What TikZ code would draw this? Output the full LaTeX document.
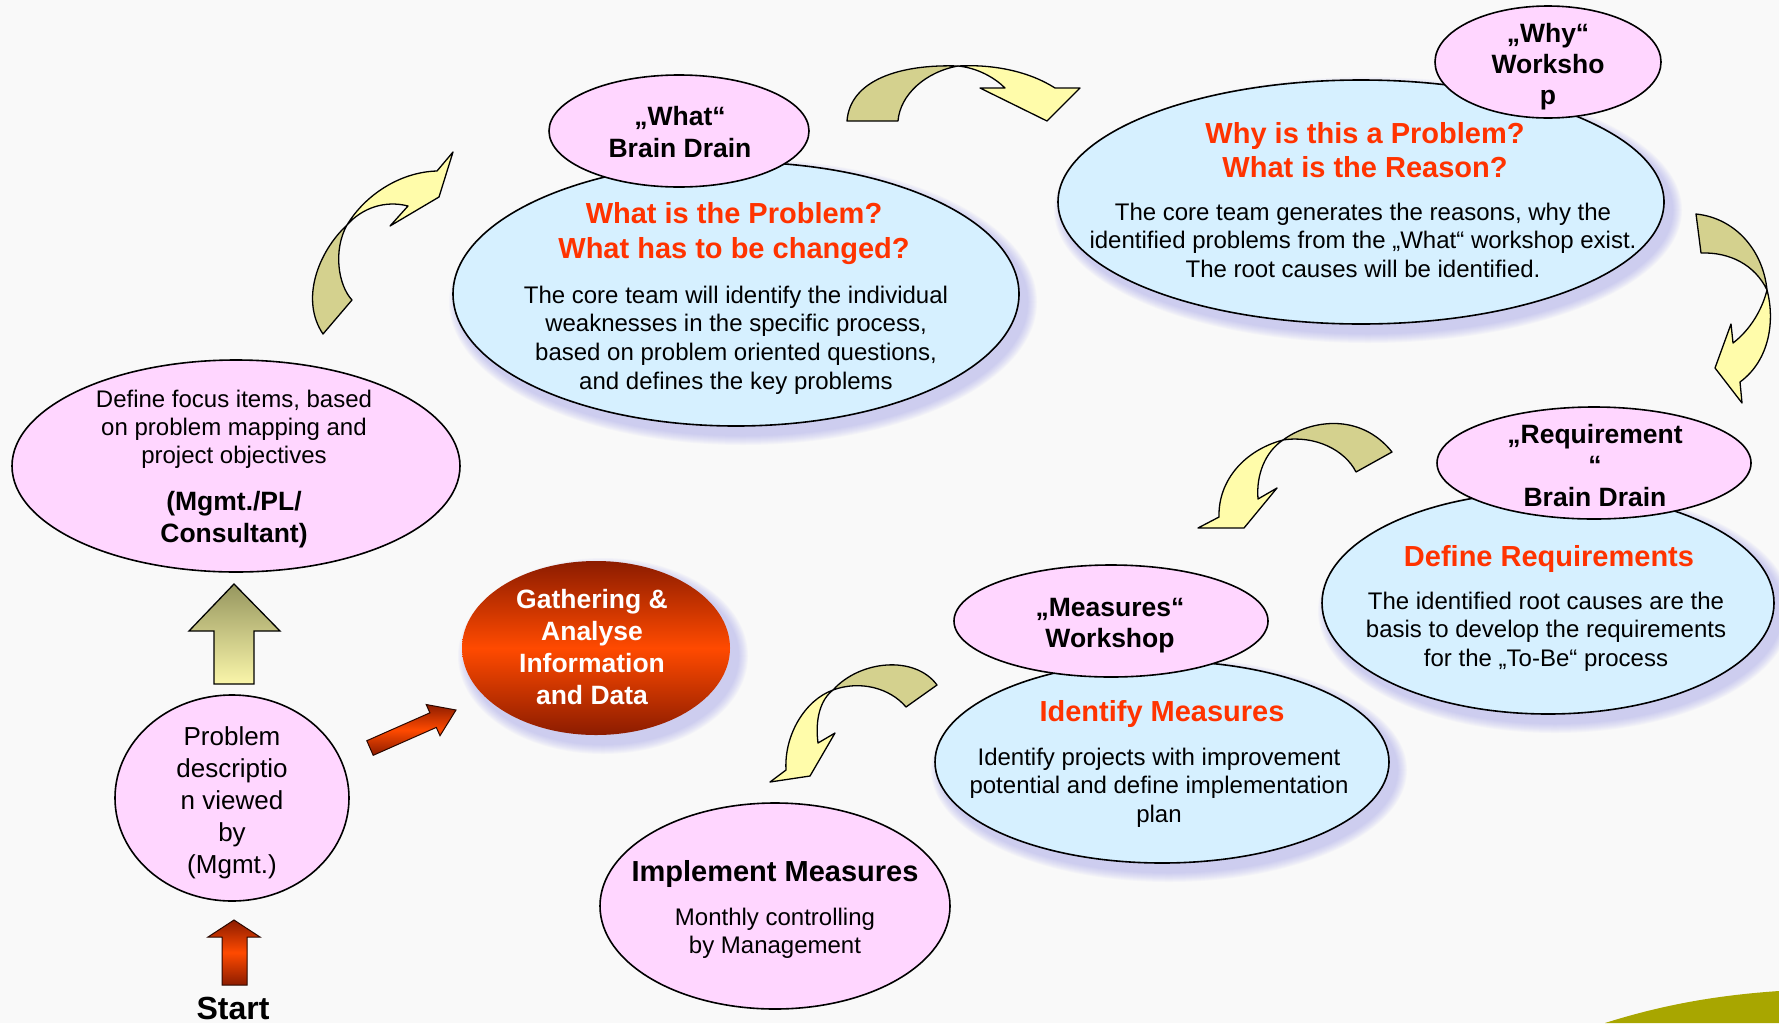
\documentclass[tikz,border=0pt]{standalone}
\usepackage{fontspec}
\setmainfont{Liberation Sans}
\usetikzlibrary{shapes.geometric}

\definecolor{bgc}{RGB}{249,249,249}
\definecolor{pinkc}{RGB}{255,214,255}
\definecolor{bluec}{RGB}{214,240,255}
\definecolor{qred}{RGB}{255,51,0}
\definecolor{olivec}{RGB}{212,209,142}
\definecolor{yellowc}{RGB}{255,252,170}
\definecolor{shadowc}{RGB}{150,150,235}
\definecolor{fireD}{RGB}{140,28,0}
\definecolor{fireM}{RGB}{255,74,0}
\definecolor{oliveTop}{RGB}{150,150,95}
\definecolor{oliveBot}{RGB}{250,246,170}
\definecolor{grassc}{RGB}{168,166,0}

% centred lines whose first baseline is the box baseline
\newcommand{\txtlines}[2]{\vtop{\baselineskip=#1\lineskiplimit=-100pt\halign{\hfil##\hfil\cr#2\crcr}}}

% soft lavender glow behind an ellipse: centre x, centre y, radius x, radius y
\newcommand{\softshadow}[4]{%
  \foreach \k in {0,...,9}{%
    \fill[shadowc, opacity=0.05] (#1+7,#2+8) ellipse [x radius={(#3+11-\k)*1pt}, y radius={(#4+11-\k)*1pt}];
  }}

\tikzset{
  pinkell/.style={ellipse, draw=black, line width=1.6pt, fill=pinkc, inner sep=0pt},
  blueell/.style={ellipse, draw=black, line width=1.6pt, fill=bluec, inner sep=0pt},
  bodytxt/.style={anchor=base, inner sep=0pt, font=\fontsize{24}{28.5}\selectfont},
  headtxt/.style={anchor=base, inner sep=0pt, font=\fontsize{26.5}{31.5}\selectfont\bfseries},
  qtxt/.style={anchor=base, inner sep=0pt, text=qred, font=\fontsize{29}{34}\selectfont\bfseries},
  backband/.style={fill=olivec, draw=black, line width=1.3pt, line join=round},
  frontband/.style={fill=yellowc, draw=black, line width=1.3pt, line join=round},
  firearrow/.style={draw=black!70!fireD, line width=1pt, line join=miter, top color=fireD, bottom color=fireD, middle color=fireM},
}

\begin{document}
\begin{tikzpicture}[x=1pt,y=-1pt]
\useasboundingbox (0,0) rectangle (1779,1023);
\fill[bgc] (0,0) rectangle (1779,1023);

% green hill in the lower right corner
\fill[grassc] (1605,1023) .. controls (1665,1004) and (1720,995) .. (1779,991) -- (1779,1023) -- cycle;

% glows
\softshadow{736}{294}{283}{132}
\softshadow{1361}{202}{303}{122}
\softshadow{1548}{603}{226}{111}
\softshadow{1162}{762}{227}{101}
\softshadow{596}{648}{134}{87}

% main description ellipses
\node[blueell, minimum width=566pt, minimum height=264pt] (whatbody) at (736,294) {};
\node[blueell, minimum width=606pt, minimum height=244pt] (whybody) at (1361,202) {};
\node[blueell, minimum width=452pt, minimum height=222pt] (reqbody) at (1548,603) {};
\node[blueell, minimum width=454pt, minimum height=202pt] (measbody) at (1162,762) {};

% title ellipses
\node[pinkell, minimum width=260pt, minimum height=112pt] (whathead) at (679,131) {};
\node[pinkell, minimum width=226pt, minimum height=112pt] (whyhead) at (1548,62) {};
\node[pinkell, minimum width=314pt, minimum height=112pt] (reqhead) at (1594,463) {};
\node[pinkell, minimum width=314pt, minimum height=112pt] (meashead) at (1111,621) {};
\node[pinkell, minimum width=448pt, minimum height=212pt] (focus) at (236,466) {};
\node[pinkell, minimum width=234pt, minimum height=206pt] (problem) at (232,798) {};
\node[pinkell, minimum width=350pt, minimum height=206pt] (implement) at (775,906) {};
\node[ellipse, inner sep=0pt, minimum width=268pt, minimum height=174pt,
      top color=fireD, bottom color=fireD, middle color=fireM] (gather) at (596,648) {};

% texts
\node[bodytxt] (focustxt) at (234,407) {\txtlines{28pt}{Define focus items, based\cr on problem mapping and\cr project objectives}};
\node[headtxt] (focusrole) at (234,510) {\txtlines{32pt}{(Mgmt./PL/\cr Consultant)}};
\node[anchor=base, inner sep=0pt, font=\fontsize{26}{32}\selectfont] (problemtxt) at (232,745)
  {\txtlines{32pt}{Problem\cr descriptio\cr n viewed\cr by\cr (Mgmt.)}};
\node[anchor=base, inner sep=0pt, font=\fontsize{32}{36}\selectfont\bfseries] (starttxt) at (233,1019) {Start};
\node[headtxt, text=white] (gathertxt) at (592,608) {\txtlines{32pt}{Gathering \&\cr Analyse\cr Information\cr and Data}};
\node[anchor=base, inner sep=0pt, font=\fontsize{29}{34}\selectfont\bfseries] (impltitle) at (775,881) {Implement Measures};
\node[bodytxt] (impltxt) at (775,925) {\txtlines{28pt}{Monthly controlling\cr by Management}};

\node[headtxt] (whatheadtxt) at (680,125) {\txtlines{32pt}{„What“\cr Brain Drain}};
\node[qtxt] (whatq) at (734,223) {\txtlines{35pt}{What is the Problem?\cr What has to be changed?}};
\node[bodytxt] (whattxt) at (736,303) {\txtlines{28.7pt}{The core team will identify the individual\cr weaknesses in the specific process,\cr based on problem oriented questions,\cr and defines the key problems}};

\node[headtxt] (whyheadtxt) at (1548,42) {\txtlines{31pt}{„Why“\cr Worksho\cr p}};
\node[qtxt] (whyq) at (1365,143) {\txtlines{34pt}{Why is this a Problem?\cr What is the Reason?}};
\node[bodytxt] (whytxt) at (1363,220) {\txtlines{28.7pt}{The core team generates the reasons, why the\cr identified problems from the „What“ workshop exist.\cr The root causes will be identified.}};

\node[headtxt] (reqheadtxt) at (1595,443) {\txtlines{31.5pt}{„Requirement\cr “\cr Brain Drain}};
\node[qtxt] (reqq) at (1549,566) {Define Requirements};
\node[bodytxt] (reqtxt) at (1546,609) {\txtlines{28.7pt}{The identified root causes are the\cr basis to develop the requirements\cr for the „To-Be“ process}};

\node[headtxt] (measheadtxt) at (1110,616) {\txtlines{31.5pt}{„Measures“\cr Workshop}};
\node[qtxt] (measq) at (1162,721) {Identify Measures};
\node[bodytxt] (meastxt) at (1159,765) {\txtlines{28.5pt}{Identify projects with improvement\cr potential and define implementation\cr plan}};

% straight block arrows
\path[draw=black, line width=1.3pt, top color=oliveTop, bottom color=oliveBot]
  (214,684) -- (214,631) -- (189,631) -- (234,584) -- (280,631) -- (254,631) -- (254,684) -- cycle;
\path[firearrow]
  (222,985) -- (222,937) -- (208,937) -- (234,920) -- (260,937) -- (247,937) -- (247,985) -- cycle;
\path[firearrow]
  (366.8,740.7) -- (429.9,712.8) -- (426.2,704.5) -- (456,710) -- (440,735.7) -- (436.3,727.4) -- (373.2,755.3) -- cycle;

% curved arrow: focus -> what
\path[backband] (323,334) -- (352,300) .. controls (338,285) and (333,250) .. (347,225)
  .. controls (318,252) and (300,300) .. (323,334) -- cycle;
\path[frontband] (347,225) .. controls (365,195) and (400,172) .. (437,171)
  -- (453,152) -- (439,197) -- (390,226) -- (408,206)
  .. controls (385,200) and (362,208) .. (347,225) -- cycle;

% curved arrow: what -> why
\path[backband] (847,121) -- (898,121) .. controls (900,95) and (925,72) .. (958,66)
  .. controls (900,64) and (850,80) .. (847,121) -- cycle;
\path[frontband] (958,66) .. controls (995,64) and (1030,72) .. (1055,88)
  -- (1080,88) -- (1047,121) -- (980,88) -- (1005,88)
  .. controls (995,78) and (978,68) .. (958,66) -- cycle;

% curved arrow: why -> requirement
\path[backband] (1696,214) -- (1701,253) .. controls (1730,252) and (1755,265) .. (1767,290)
  .. controls (1763,250) and (1735,218) .. (1696,214) -- cycle;
\path[frontband] (1767,290) .. controls (1775,320) and (1770,360) .. (1740,382)
  -- (1742,403) -- (1715,368) -- (1731,324) -- (1733,343)
  .. controls (1750,330) and (1762,310) .. (1767,290) -- cycle;

% curved arrow: requirement -> measures
\path[backband] (1392,452) -- (1356,472) .. controls (1345,450) and (1315,435) .. (1283,440)
  .. controls (1310,420) and (1360,412) .. (1392,452) -- cycle;
\path[frontband] (1283,440) .. controls (1245,450) and (1218,480) .. (1219,517)
  -- (1198,528) -- (1244,528) -- (1277,488) -- (1258,499)
  .. controls (1256,475) and (1265,452) .. (1283,440) -- cycle;

% curved arrow: measures -> implement
\path[backband] (937,685) -- (906,707) .. controls (890,688) and (860,680) .. (833,690)
  .. controls (860,660) and (915,655) .. (937,685) -- cycle;
\path[frontband] (833,690) .. controls (805,700) and (784,735) .. (786,770)
  -- (770,782) -- (810,776) -- (835,733) -- (818,743)
  .. controls (815,720) and (820,700) .. (833,690) -- cycle;

\end{tikzpicture}
\end{document}
